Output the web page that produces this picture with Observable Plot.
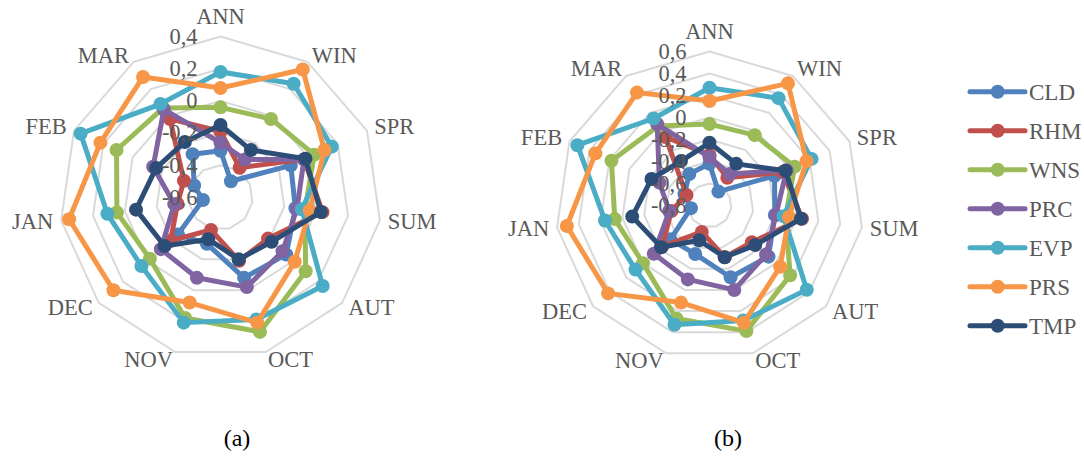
<!DOCTYPE html>
<html><head><meta charset="utf-8">
<script src="https://cdn.jsdelivr.net/npm/d3@7"></script>
<script src="https://cdn.jsdelivr.net/npm/@observablehq/plot@0.6"></script>
<style>
body{margin:0;background:#fff;}
#root{position:relative;width:1084px;height:456px;overflow:hidden;font-family:"Liberation Serif","Times New Roman",serif;}
.chart{position:absolute;top:0;}
.cap{position:absolute;font-size:24px;color:#000;transform:translate(-50%,-50%);white-space:nowrap;}
</style></head><body><div id="root"></div>
<script>
// ---- data ----
const categories = ["ANN","WIN","SPR","SUM","AUT","OCT","NOV","DEC","JAN","FEB","MAR"];
const seriesNames = ["CLD","RHM","WNS","PRC","EVP","PRS","TMP"];
const seriesColors = ["#4F81BD","#C0504D","#9BBB59","#8064A2","#4BACC6","#F79646","#2C4D75"];

// chart (a)
const ticksA = [-0.6,-0.4,-0.2,0,0.2,0.4];
const cldA = [-0.31,-0.48,-0.12,-0.13,-0.06,-0.08,-0.30,-0.25,-0.49,-0.42,-0.28];
const rhmA = [-0.19,-0.38,-0.03,0.04,-0.21,-0.19,-0.39,-0.19,-0.33,-0.35,-0.02];
const wnsA = [-0.04,-0.02,0.04,-0.07,0.10,0.27,0.18,-0.02,0.05,0.11,0.06];
const prcA = [-0.26,-0.32,-0.03,-0.12,-0.09,-0.02,-0.08,-0.11,-0.31,-0.14,0.05];
const evpA = [0.18,0.24,0.16,-0.09,0.24,0.19,0.21,0.05,0.11,0.355,0.09];
const prsA = [0.08,0.345,0.11,-0.04,0.01,0.21,0.08,0.28,0.35,0.22,0.29];
const tmpA = [-0.15,-0.25,-0.02,0.03,-0.18,-0.20,-0.33,-0.14,-0.07,-0.16,-0.19];

// chart (b)
const ticksB = [-0.8,-0.6,-0.4,-0.2,0,0.2,0.4,0.6];
const cldB = [-0.42,-0.65,-0.15,-0.20,-0.09,-0.12,-0.34,-0.33,-0.63,-0.55,-0.46];
const rhmB = [-0.34,-0.50,-0.07,0.05,-0.29,-0.31,-0.55,-0.23,-0.45,-0.57,-0.06];
const wnsB = [-0.06,-0.04,0.05,-0.10,0.17,0.39,0.27,0.00,0.07,0.18,0.06];
const prcB = [-0.36,-0.46,-0.03,-0.19,-0.12,0.00,-0.10,-0.13,-0.43,-0.30,0.08];
const evpB = [0.27,0.36,0.22,-0.12,0.37,0.29,0.33,0.09,0.16,0.52,0.14];
const prsB = [0.15,0.52,0.17,-0.07,0.05,0.31,0.12,0.42,0.51,0.34,0.42];
const tmpB = [-0.23,-0.35,-0.04,0.04,-0.25,-0.31,-0.47,-0.22,-0.09,-0.22,-0.32];

const panelCaptions = ["(a)","(b)"];

// ---- drawing ----
const FONT = '"Liberation Serif","Times New Roman",serif';
const TXT = "#595959";
const root = document.getElementById("root");

function fmt(v){
  if (Math.abs(v) < 1e-9) return "0";
  return (v < 0 ? "-" : "") + Math.abs(v).toFixed(1).replace(".", ",");
}

function radar(valuesList, ticks, opt){
  const {R, cx, cy, width, height, left} = opt;
  const min = ticks[0], max = ticks[ticks.length-1];
  const n = categories.length;
  const ang = i => i * 2 * Math.PI / n;
  const rn = v => (v - min) / (max - min);
  const pts = [];
  valuesList.forEach((vals, s) => {
    vals.forEach((v, i) => {
      pts.push({s, cat: categories[i], x: rn(v)*Math.sin(ang(i)), y: rn(v)*Math.cos(ang(i))});
    });
  });
  const rings = [];
  ticks.slice(1).forEach(t => {
    categories.forEach((c, i) => rings.push({t, x: rn(t)*Math.sin(ang(i)), y: rn(t)*Math.cos(ang(i))}));
  });
  const labOff = 1 + 8 / R;
  const labels = categories.map((c, i) => {
    const s = Math.sin(ang(i));
    const k = i === 0 ? 1 + 20 / R : labOff;
    return {c, x: k*s, y: k*Math.cos(ang(i)), anchor: Math.abs(s) < 0.05 ? "middle" : (s > 0 ? "start" : "end")};
  });
  const tickLabels = ticks.map(t => ({t, x: 0, y: rn(t), label: fmt(t)}));

  const marks = [
    Plot.line(rings, {x: "x", y: "y", z: "t", curve: "linear-closed", stroke: "#d9d9d9", strokeWidth: 2})
  ];
  valuesList.forEach((vals, s) => {
    const d = pts.filter(p => p.s === s);
    marks.push(Plot.line(d, {x: "x", y: "y", curve: "linear-closed", stroke: seriesColors[s], strokeWidth: 5, strokeLinejoin: "round"}));
    marks.push(Plot.dot(d, {x: "x", y: "y", r: 7, fill: seriesColors[s]}));
  });
  ["start","end","middle"].forEach(a => {
    marks.push(Plot.text(labels.filter(l => l.anchor === a), {x: "x", y: "y", text: "c", textAnchor: a, fontSize: 22.5, fill: TXT, fontFamily: FONT}));
  });
  marks.push(Plot.text(tickLabels, {x: "x", y: "y", text: "label", textAnchor: "end", dx: -23, fontSize: 22.5, fill: TXT, fontFamily: FONT}));

  const svg = Plot.plot({
    width, height, margin: 0,
    style: {background: "transparent", fontFamily: FONT, overflow: "visible"},
    x: {domain: [-cx / R, (width - cx) / R], axis: null},
    y: {domain: [-(height - cy) / R, cy / R], axis: null},
    marks
  });
  svg.classList.add("chart");
  svg.style.left = left + "px";
  root.appendChild(svg);
}

radar([cldA, rhmA, wnsA, prcA, evpA, prsA, tmpA], ticksA, {R: 161, cx: 220, cy: 197, width: 440, height: 400, left: 0});
radar([cldB, rhmB, wnsB, prcB, evpB, prsB, tmpB], ticksB, {R: 154, cx: 220, cy: 205, width: 440, height: 400, left: 489});

// captions
[[237, 438], [728, 438]].forEach((p, i) => {
  const d = document.createElement("div");
  d.className = "cap";
  d.style.left = p[0] + "px"; d.style.top = p[1] + "px";
  d.textContent = panelCaptions[i];
  root.appendChild(d);
});

// legend
const lg = d3.create("svg").attr("width", 130).attr("height", 300)
  .style("position", "absolute").style("left", "954px").style("top", "60px");
seriesNames.forEach((name, i) => {
  const y = 31.7 + i * 39;
  const g = lg.append("g").attr("transform", `translate(0,${y})`);
  g.append("line").attr("x1", 16).attr("x2", 71).attr("y1", 0).attr("y2", 0)
    .attr("stroke", seriesColors[i]).attr("stroke-width", 5).attr("stroke-linecap", "round");
  g.append("circle").attr("cx", 43.7).attr("cy", 0).attr("r", 7).attr("fill", seriesColors[i]);
  g.append("text").attr("x", 75).attr("y", 0).attr("dy", "0.35em")
    .attr("font-family", FONT).attr("font-size", 23).attr("fill", TXT).text(name);
});
root.appendChild(lg.node());
</script>
</body></html>
